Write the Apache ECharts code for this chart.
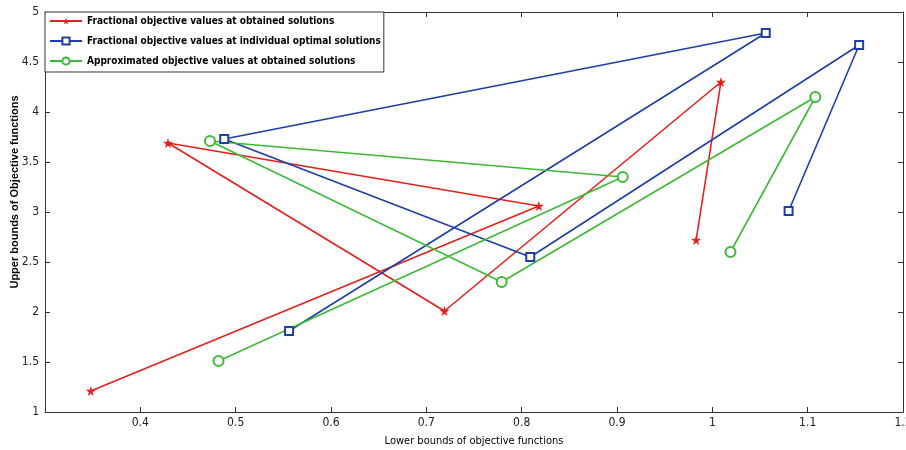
<!DOCTYPE html>
<html>
<head>
<meta charset="utf-8">
<script src="https://cdn.jsdelivr.net/npm/echarts@6/dist/echarts.min.js"></script>
<style>
  html, body { margin: 0; padding: 0; background: #fff; }
  #main { width: 906px; height: 450px; }
</style>
</head>
<body>
<div id="main"></div>
<script>
// series names (legend)
var seriesNames = [
  'Fractional objective values at obtained solutions',
  'Fractional objective values at individual optimal solutions',
  'Approximated objective values at obtained solutions'
];
var xTitle = 'Lower bounds of objective functions';
var yTitle = 'Upper bounds of Objective functions';

// points in drawing order (x = lower bound, y = upper bound)
var redX = [0.348, 0.818, 0.429, 0.719, 1.009, 0.983];
var redY = [1.21, 3.06, 3.69, 2.01, 4.30, 2.72];
var blueX = [0.556, 1.056, 0.488, 0.809, 1.154, 1.080];
var blueY = [1.81, 4.79, 3.73, 2.55, 4.67, 3.01];
var greenX = [0.482, 0.906, 0.473, 0.779, 1.108, 1.019];
var greenY = [1.51, 3.35, 3.71, 2.30, 4.15, 2.60];

var narrow = "'Liberation Sans Narrow', 'DejaVu Sans Condensed', sans-serif";
var star = 'path://M50,0 L61,35 L98,35 L68,57 L79,91 L50,70 L21,91 L32,57 L2,35 L39,35 Z';

function pairs(xs, ys) {
  return xs.map(function (x, i) { return [x, ys[i]]; });
}

var chart = echarts.init(document.getElementById('main'));

var axisLine = { show: true, lineStyle: { color: '#333', width: 1 } };
var tick = { show: true, inside: true, length: 5, lineStyle: { color: '#333' } };

var option = {
  backgroundColor: '#fff',
  animation: false,
  grid: { left: 45, right: 3, top: 12, bottom: 38, outerBoundsMode: 'none', containLabel: false },
  // y title sits a bit above the axis centre, as in the original figure
  graphic: [{
    type: 'text',
    x: 15,
    y: 192,
    rotation: Math.PI / 2,
    style: {
      text: yTitle,
      font: "bold 11px 'Liberation Sans', Arial, sans-serif",
      fill: '#000',
      align: 'center',
      verticalAlign: 'middle'
    }
  }],
  legend: {
    orient: 'vertical',
    left: 45,
    top: 12,
    backgroundColor: '#fff',
    borderColor: '#333',
    borderWidth: 1,
    borderRadius: 0,
    padding: [4, 3, 6, 4],
    itemGap: 10,
    itemWidth: 32,
    itemHeight: 9,
    textStyle: { fontFamily: narrow, fontSize: 10, fontWeight: 'bold', color: '#000' },
    data: seriesNames
  },
  xAxis: [{
    type: 'value',
    min: 0.3,
    max: 1.2,
    interval: 0.1,
    name: xTitle,
    nameLocation: 'middle',
    nameGap: 24,
    nameTextStyle: { fontFamily: narrow, fontSize: 11, color: '#000' },
    axisLine: axisLine,
    axisTick: tick,
    splitLine: { show: false },
    axisLabel: {
      fontFamily: narrow, fontSize: 12, color: '#222', margin: 5,
      formatter: function (v) {
        if (Math.abs(v - 0.3) < 1e-6) return '';
        return String(Math.round(v * 10) / 10);
      }
    }
  }, {
    type: 'value',
    position: 'top',
    min: 0.3,
    max: 1.2,
    interval: 0.1,
    axisLine: axisLine,
    axisTick: tick,
    axisLabel: { show: false },
    splitLine: { show: false }
  }],
  yAxis: [{
    type: 'value',
    min: 1,
    max: 5,
    interval: 0.5,
    axisLine: axisLine,
    axisTick: tick,
    splitLine: { show: false },
    axisLabel: { fontFamily: narrow, fontSize: 12, color: '#222', margin: 6 }
  }, {
    type: 'value',
    position: 'right',
    min: 1,
    max: 5,
    interval: 0.5,
    axisLine: axisLine,
    axisTick: tick,
    axisLabel: { show: false },
    splitLine: { show: false }
  }],
  series: [{
    name: seriesNames[0],
    type: 'line',
    data: pairs(redX, redY),
    symbol: star,
    symbolSize: 10,
    showAllSymbol: true,
    itemStyle: { color: '#e5201c' },
    lineStyle: { color: '#e5201c', width: 1.6 }
  }, {
    name: seriesNames[1],
    type: 'line',
    data: pairs(blueX, blueY),
    symbol: 'emptyRect',
    symbolSize: 8,
    showAllSymbol: true,
    itemStyle: { color: '#1f3ea6', borderWidth: 1.5 },
    lineStyle: { color: '#1f3ea6', width: 1.6 }
  }, {
    name: seriesNames[2],
    type: 'line',
    data: pairs(greenX, greenY),
    symbol: 'emptyCircle',
    symbolSize: 10,
    showAllSymbol: true,
    itemStyle: { color: '#3cba36', borderWidth: 1.5 },
    lineStyle: { color: '#3cba36', width: 1.6 }
  }]
};

chart.setOption(option);
</script>
</body>
</html>
